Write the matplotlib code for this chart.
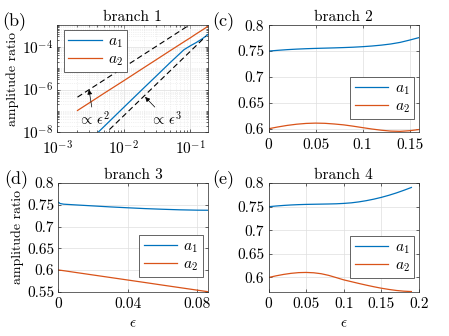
import matplotlib
import matplotlib.pyplot as plt
from matplotlib.ticker import FuncFormatter, LogLocator, NullFormatter

matplotlib.use("Agg")

plt.rcParams["font.family"] = "serif"
plt.rcParams["font.serif"] = ["cmr10", "DejaVu Serif"]
plt.rcParams["mathtext.fontset"] = "cm"
plt.rcParams["axes.formatter.use_mathtext"] = True
plt.rcParams["axes.unicode_minus"] = False

BLUE = "#0072BD"
ORANGE = "#D95319"

# branch 1 (log-log)
eps_b = [2e-3, 3e-3, 5e-3, 1e-2, 2e-2, 3e-2, 5e-2, 8e-2, 0.1, 0.12, 0.15, 0.186]
a1_b = [1.2e-9, 4.0e-9, 1.85e-8, 1.5e-7, 1.2e-6, 4.0e-6, 1.85e-5, 7.2e-5, 1.1e-4, 1.5e-4, 2.3e-4, 3.8e-4]
a2_b = [1.05e-7, 2.36e-7, 6.6e-7, 2.6e-6, 1.05e-5, 2.36e-5, 6.6e-5, 1.68e-4, 2.6e-4, 3.8e-4, 5.9e-4, 9.1e-4]
ref2_eps = [2e-3, 0.1]
ref2_val = [4.4e-7, 1.1e-3]
ref3_eps = [2e-3, 0.17]
ref3_val = [4.9e-10, 3.0e-4]

# branch 2
eps_c = [0, 0.01, 0.02, 0.03, 0.04, 0.05, 0.06, 0.07, 0.08, 0.09, 0.1, 0.11, 0.12, 0.13, 0.14, 0.15, 0.16]
a1_c = [0.750, 0.7515, 0.7528, 0.7538, 0.7546, 0.7552, 0.7557, 0.7562, 0.7568, 0.7575, 0.7585,
        0.7598, 0.7615, 0.7637, 0.7668, 0.7712, 0.776]
a2_c = [0.600, 0.6035, 0.6065, 0.6088, 0.6103, 0.6109, 0.6105, 0.6092, 0.6075, 0.605, 0.6022,
        0.5995, 0.5972, 0.5955, 0.595, 0.5962, 0.5985]

# branch 3
eps_d = [0, 0.001, 0.003, 0.01, 0.02, 0.03, 0.04, 0.05, 0.06, 0.07, 0.08, 0.086]
a1_d = [0.756, 0.753, 0.7515, 0.7498, 0.7475, 0.7452, 0.7432, 0.7413, 0.7398, 0.7385, 0.7377, 0.7375]
a2_d = [0.600, 0.5994, 0.5983, 0.5942, 0.5884, 0.5826, 0.5768, 0.571, 0.5651, 0.5593, 0.5535, 0.550]

# branch 4
eps_e = [0, 0.01, 0.02, 0.03, 0.04, 0.05, 0.06, 0.07, 0.08, 0.09, 0.1,
         0.11, 0.12, 0.13, 0.14, 0.15, 0.16, 0.17, 0.18, 0.19]
a1_e = [0.750, 0.7515, 0.7527, 0.7537, 0.7544, 0.7549, 0.7552, 0.7555, 0.7558, 0.7562, 0.757,
        0.7582, 0.7602, 0.7628, 0.766, 0.7698, 0.7742, 0.7792, 0.7848, 0.7908]
a2_e = [0.600, 0.6035, 0.6065, 0.6088, 0.6103, 0.6107, 0.6100, 0.6080, 0.6045, 0.5998, 0.595,
        0.5912, 0.5874, 0.5838, 0.5804, 0.5773, 0.5747, 0.5725, 0.571, 0.5702]

fig = plt.figure(figsize=(4.49, 3.36), dpi=100)
ax_b = fig.add_axes([0.128, 0.606, 0.336, 0.319])
ax_c = fig.add_axes([0.598, 0.606, 0.335, 0.319])
ax_d = fig.add_axes([0.130, 0.132, 0.334, 0.323])
ax_e = fig.add_axes([0.598, 0.132, 0.335, 0.323])

num_fmt = FuncFormatter(lambda v, p: f"{v:g}")


def style(ax):
    ax.tick_params(which="both", direction="in", top=True, right=True,
                   labelsize=11, length=2.5, width=0.5, color="#262626", pad=3)
    ax.tick_params(axis="x", which="major", pad=4)
    ax.tick_params(which="minor", length=1.5)
    for s in ax.spines.values():
        s.set_linewidth(0.5)
        s.set_color("#262626")
    ax.grid(True, which="major", color="#dedede", linewidth=0.5)


def legend(ax, anchor, loc="lower right"):
    leg = ax.legend(loc=loc, bbox_to_anchor=anchor, borderaxespad=0, fontsize=11,
                    handlelength=2.2, handletextpad=0.4, labelspacing=0.15,
                    borderpad=0.3, fancybox=False, framealpha=1)
    leg.get_frame().set_edgecolor("#262626")
    leg.get_frame().set_linewidth(0.5)


# (b) branch 1
ax_b.loglog(eps_b, a1_b, color=BLUE, lw=0.9, label=r"$a_1$")
ax_b.loglog(eps_b, a2_b, color=ORANGE, lw=0.9, label=r"$a_2$")
ax_b.loglog(ref2_eps, ref2_val, color="black", lw=0.8, dashes=(5, 3))
ax_b.loglog(ref3_eps, ref3_val, color="black", lw=0.8, dashes=(5, 3))
ax_b.set_xlim(1e-3, 0.186)
ax_b.set_ylim(1e-8, 1e-3)
ax_b.set_xticks([1e-3, 1e-2, 1e-1])
ax_b.set_yticks([1e-8, 1e-6, 1e-4])
ax_b.yaxis.set_minor_locator(LogLocator(base=10, subs=range(1, 10), numticks=20))
ax_b.yaxis.set_minor_formatter(NullFormatter())
style(ax_b)
ax_b.tick_params(axis="x", which="major", pad=5)
ax_b.grid(True, which="minor", color="#e4e4e4", linewidth=0.5, linestyle=":")
ax_b.annotate(r"$\propto\,\epsilon^2$", xy=(2.98e-3, 1.0e-6), xytext=(3.5e-3, 4.3e-8),
              ha="center", va="center", fontsize=10.5,
              arrowprops=dict(arrowstyle="-|>", color="black", lw=0.5,
                              mutation_scale=7, shrinkA=0, shrinkB=0))
ax_b.annotate(r"$\propto\,\epsilon^3$", xy=(2.08e-2, 4.5e-7), xytext=(4.3e-2, 4.3e-8),
              ha="center", va="center", fontsize=10.5,
              arrowprops=dict(arrowstyle="-|>", color="black", lw=0.5,
                              mutation_scale=7, shrinkA=0, shrinkB=0))
legend(ax_b, (0.04, 0.955), loc="upper left")
ax_b.set_title("branch 1", fontsize=11, pad=3)
ax_b.set_ylabel("amplitude ratio", fontsize=10, labelpad=2)

# (c) branch 2
ax_c.plot(eps_c, a1_c, color=BLUE, lw=0.9, label=r"$a_1$")
ax_c.plot(eps_c, a2_c, color=ORANGE, lw=0.9, label=r"$a_2$")
ax_c.set_xlim(0, 0.16)
ax_c.set_ylim(0.593, 0.8)
ax_c.set_xticks([0, 0.05, 0.1, 0.15])
ax_c.set_yticks([0.6, 0.65, 0.7, 0.75, 0.8])
ax_c.xaxis.set_major_formatter(num_fmt)
ax_c.yaxis.set_major_formatter(num_fmt)
style(ax_c)
legend(ax_c, (0.967, 0.124))
ax_c.set_title("branch 2", fontsize=11, pad=3)

# (d) branch 3
ax_d.plot(eps_d, a1_d, color=BLUE, lw=0.9, label=r"$a_1$")
ax_d.plot(eps_d, a2_d, color=ORANGE, lw=0.9, label=r"$a_2$")
ax_d.set_xlim(0, 0.0865)
ax_d.set_ylim(0.55, 0.8)
ax_d.set_xticks([0, 0.04, 0.08])
ax_d.set_yticks([0.55, 0.6, 0.65, 0.7, 0.75, 0.8])
ax_d.xaxis.set_major_formatter(num_fmt)
ax_d.yaxis.set_major_formatter(num_fmt)
style(ax_d)
legend(ax_d, (0.963, 0.133))
ax_d.set_title("branch 3", fontsize=11, pad=3)
ax_d.set_ylabel("amplitude ratio", fontsize=10, labelpad=2)
ax_d.set_xlabel(r"$\epsilon$", fontsize=11, labelpad=4)

# (e) branch 4
ax_e.plot(eps_e, a1_e, color=BLUE, lw=0.9, label=r"$a_1$")
ax_e.plot(eps_e, a2_e, color=ORANGE, lw=0.9, label=r"$a_2$")
ax_e.set_xlim(0, 0.2)
ax_e.set_ylim(0.57, 0.8)
ax_e.set_xticks([0, 0.05, 0.1, 0.15, 0.2])
ax_e.set_yticks([0.6, 0.65, 0.7, 0.75, 0.8])
ax_e.xaxis.set_major_formatter(num_fmt)
ax_e.yaxis.set_major_formatter(num_fmt)
style(ax_e)
legend(ax_e, (0.967, 0.123))
ax_e.set_title("branch 4", fontsize=11, pad=3)
ax_e.set_xlabel(r"$\epsilon$", fontsize=11, labelpad=4)

# panel labels
for lbl, x, y in [("(b)", 0.005, 0.935), ("(c)", 0.473, 0.935),
                  ("(d)", 0.010, 0.465), ("(e)", 0.473, 0.465)]:
    fig.text(x, y, lbl, fontsize=13, ha="left", va="center")

fig.savefig("out.png", dpi=100)
plt.close(fig)
